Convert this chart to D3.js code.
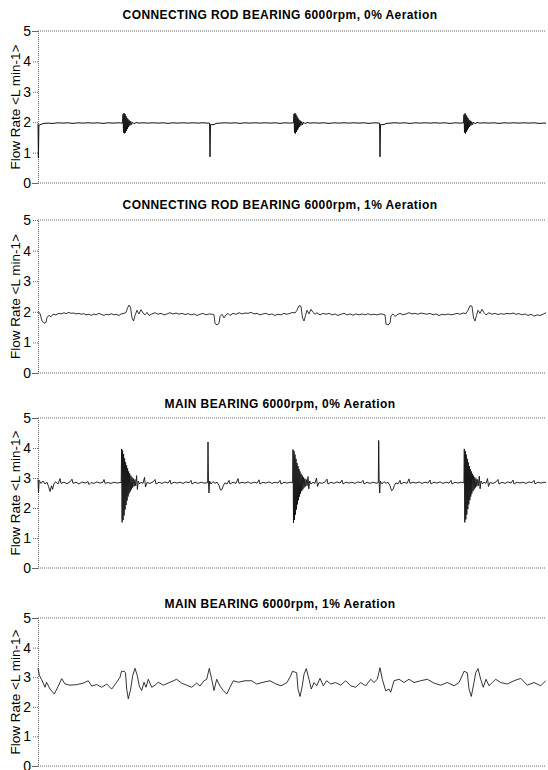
<!DOCTYPE html>
<html>
<head>
<meta charset="utf-8">
<script src="https://cdn.jsdelivr.net/npm/d3@7"></script>
<style>
  body { margin: 0; background: #fff; }
  svg { display: block; }
  .title { font-family: "Liberation Sans", Arial, sans-serif; font-weight: bold; font-size: 12px; letter-spacing: 0.4px; fill: #000; }
  .ylabel { font-family: "Liberation Sans", Arial, sans-serif; font-size: 13.5px; fill: #000; }
  .yaxis text { font-family: "Liberation Sans", Arial, sans-serif; font-size: 14px; fill: #000; }
  .yaxis path, .yaxis line, .frame { stroke: #666; stroke-dasharray: 1,1; fill: none; }
</style>
</head>
<body>
<div id="chart"></div>
<script>
// chart texts
var titles = [
    "CONNECTING ROD BEARING 6000rpm, 0% Aeration",
    "CONNECTING ROD BEARING 6000rpm, 1% Aeration",
    "MAIN BEARING 6000rpm, 0% Aeration",
    "MAIN BEARING 6000rpm, 1% Aeration"
];
var yLabel = "Flow Rate <L min-1>";
var yTicks = [0, 1, 2, 3, 4, 5];
var xDomain = [0, 508]; // sample index

// flow rate traces, [sample, L/min]
var conrod0 = [
[0,1.95],[0.4,0.82],[0.9,1.9],[3,1.93],[6,1.96],[10,1.97],[15,1.96],[20,1.98],[25,1.97],[30,1.98],[35,1.96],[40,1.98],[45,1.97],[50,1.98],[55,1.97],[60,1.98],[65,1.96],[70,1.98],[75,1.97],[80,1.98],[84.5,1.97],
[85,2.26],[85.5,1.66],[86,2.3],[86.5,1.63],[87,2.27],[87.5,1.66],[88,2.2],[88.5,1.72],[89,2.14],[89.5,1.78],[90,2.1],[90.6,1.84],[91.2,2.06],[91.9,1.89],[92.7,2.03],[93.6,1.92],[94.6,2.0],[96,1.95],[98,1.99],[101,1.97],[105,1.98],[110,1.97],[115,1.98],[120,1.97],[125,1.98],[130,1.96],[135,1.98],[140,1.97],[145,1.98],[150,1.97],[155,1.98],[160,1.97],[165,1.98],[170,1.97],[171.6,1.97],
[172,0.86],[172.5,1.92],[176,1.92],[178,1.96],[182,1.97],[187,1.98],[192,1.97],[197,1.98],[202,1.96],[207,1.98],[212,1.97],[217,1.98],[222,1.97],[227,1.98],[232,1.97],[237,1.98],[242,1.96],[247,1.98],[252,1.97],[255.5,1.98],
[256,2.27],[256.5,1.65],[257,2.3],[257.5,1.63],[258,2.25],[258.5,1.68],[259,2.19],[259.5,1.74],[260,2.13],[260.5,1.8],[261,2.08],[261.6,1.85],[262.2,2.05],[262.9,1.89],[263.7,2.02],[264.6,1.92],[265.6,2.0],[267,1.95],[269,1.99],[272,1.97],[276,1.98],[281,1.97],[286,1.98],[291,1.96],[296,1.98],[301,1.97],[306,1.98],[311,1.97],[316,1.98],[321,1.97],[326,1.98],[331,1.96],[336,1.98],[341.6,1.97],
[342,0.86],[342.5,1.92],[346,1.92],[348,1.96],[352,1.97],[357,1.98],[362,1.97],[367,1.98],[372,1.96],[377,1.98],[382,1.97],[387,1.98],[392,1.97],[397,1.98],[402,1.97],[407,1.98],[412,1.96],[417,1.98],[422,1.97],[425.5,1.98],
[426,2.25],[426.5,1.66],[427,2.29],[427.5,1.63],[428,2.24],[428.5,1.68],[429,2.18],[429.5,1.74],[430,2.13],[430.5,1.8],[431,2.08],[431.6,1.85],[432.2,2.05],[432.9,1.89],[433.7,2.02],[434.6,1.92],[435.6,2.0],[437,1.95],[439,1.99],[442,1.97],[446,1.98],[451,1.97],[456,1.98],[461,1.96],[466,1.98],[471,1.97],[476,1.98],[481,1.97],[486,1.98],[491,1.97],[496,1.98],[501,1.96],[505,1.97],[508,1.97]
];

var conrod1 = [
[0,2.0],[2,1.95],[4,1.7],[6,1.63],[8,1.65],[9,1.82],[11,1.88],[13,1.84],[15,1.92],[18,1.9],[21,1.95],[23,1.93],[26,1.97],[28,1.94],[31,1.98],[33,1.95],[36,1.96],[38,1.93],[41,1.95],[43,1.92],[46,1.94],[48,1.9],[51,1.92],[53,1.88],[56,1.93],[58,1.9],[61,1.95],[63,1.92],[66,1.88],[68,1.92],[71,1.9],[73,1.94],[76,1.9],[78,1.92],[81,1.88],[83,1.93],[86,1.95],[88,1.98],[89.5,2.12],[91,2.22],[92.5,2.15],[94,1.8],[95.5,1.7],[97,1.88],[99,2.05],[101,1.93],[103,2.07],[105,1.96],[107,1.9],[109,1.98],[111,1.88],[114,1.93],[117,1.97],[120,1.92],[123,1.95],[126,1.9],[129,1.93],[132,1.97],[135,1.93],[138,1.96],[141,1.92],[144,1.95],[147,1.91],[150,1.94],[153,1.9],[156,1.93],[159,1.88],[162,1.92],[165,1.95],[168,1.9],[171,1.93],[174,1.92],[176,1.9],[177,1.62],[179,1.57],[181,1.62],[182,1.85],[184,1.92],[186,1.8],[188,1.9],[190,1.95],[192,1.88],[195,1.95],[198,1.92],[201,1.97],[204,1.93],[207,1.96],[210,1.95],[213,1.98],[216,1.93],[219,1.95],[222,1.9],[225,1.93],[228,1.95],[231,1.9],[234,1.93],[237,1.88],[240,1.92],[243,1.9],[246,1.95],[249,1.92],[252,1.95],[255,1.98],[257,1.96],[259,2.05],[261,2.2],[263,2.18],[264.5,1.8],[266,1.7],[267.5,1.88],[269,2.05],[271,1.93],[273,2.08],[275,1.98],[277,1.92],[279,1.97],[282,1.9],[285,1.95],[288,1.92],[291,1.95],[294,1.9],[297,1.93],[300,1.88],[303,1.92],[306,1.95],[309,1.9],[312,1.93],[315,1.89],[318,1.93],[321,1.9],[324,1.93],[327,1.9],[330,1.94],[333,1.9],[336,1.92],[339,1.9],[342,1.93],[345,1.92],[347,1.9],[348,1.6],[350,1.57],[352,1.63],[353,1.87],[355,1.93],[357,1.85],[359,1.9],[362,1.95],[365,1.9],[368,1.93],[371,1.97],[374,1.93],[377,1.95],[380,1.92],[383,1.96],[386,1.94],[389,1.92],[392,1.95],[395,1.9],[398,1.93],[401,1.88],[404,1.92],[407,1.9],[410,1.93],[413,1.9],[416,1.92],[419,1.95],[422,1.92],[425,1.96],[428,1.94],[430,2.05],[432,2.2],[434,2.18],[435.5,1.8],[437,1.7],[438.5,1.88],[440,2.05],[442,1.95],[444,2.08],[446,1.97],[448,1.9],[451,1.97],[454,1.92],[457,1.95],[460,1.91],[463,1.94],[466,1.92],[469,1.95],[472,1.93],[475,1.96],[478,1.92],[481,1.94],[484,1.9],[487,1.93],[490,1.88],[493,1.92],[496,1.86],[499,1.9],[502,1.88],[505,1.92],[508,1.97]
];

var main0 = [
[0,2.95],[0.5,2.5],[1.2,2.92],[3,2.82],[5,2.9],[7,2.8],[9,2.86],[10.5,2.72],[12,2.55],[13.5,2.74],[14.5,2.62],[16,2.82],[18,2.87],[20,2.8],[22,2.98],[23,2.82],[26,2.86],[29,2.81],[32,2.87],[34,2.96],[35,2.82],[38,2.86],[41,2.8],[44,2.87],[47,2.83],[50,2.88],[51,2.78],[53,2.85],[56,2.82],[59,2.87],[62,2.83],[65,2.86],[66,2.95],[67,2.82],[70,2.85],[73,2.82],[76,2.86],[79,2.83],[82,2.85],[83.2,2.84],
[83.6,3.97],[84.1,1.52],[84.6,3.92],[85.1,1.6],[85.6,3.8],[86.1,1.75],[86.6,3.65],[87.1,1.95],[87.6,3.52],[88.1,2.1],[88.6,3.42],[89.1,2.25],[89.6,3.32],[90.1,2.38],[90.6,3.22],[91.1,2.48],[91.7,3.15],[92.3,2.55],[92.9,3.08],[93.5,2.62],[94.1,3.02],[94.7,2.68],[95.4,2.98],[96.1,2.72],[96.9,2.95],[97.7,2.74],[98.6,3.08],[99.4,2.62],[100.3,2.9],[101.5,2.8],[103,2.86],[105,2.82],[106.5,3.02],[107.5,2.7],[109,2.85],[112,2.82],[115,2.87],[117,2.95],[118,2.8],[121,2.86],[124,2.82],[127,2.87],[130,2.83],[132,2.93],[133,2.8],[136,2.86],[139,2.83],[142,2.86],[145,2.82],[148,2.87],[151,2.84],[153,2.92],[154,2.8],[157,2.86],[160,2.82],[163,2.86],[166,2.83],[169.6,2.84],
[170,4.2],[170.5,2.84],[171,2.5],[171.6,2.9],[173,2.8],[175,2.88],[177,2.82],[179,2.86],[181,2.75],[182.5,2.6],[184,2.62],[185.5,2.76],[187,2.84],[189,2.8],[191,2.92],[192,2.8],[195,2.86],[198,2.82],[200,2.98],[201,2.82],[204,2.86],[207,2.83],[210,2.87],[213,2.82],[216,2.86],[219,2.83],[221,2.94],[222,2.8],[225,2.86],[228,2.83],[231,2.87],[234,2.82],[237,2.86],[240,2.83],[242,2.92],[243,2.8],[246,2.86],[249,2.83],[252,2.86],[254.6,2.84],
[255,3.95],[255.5,1.5],[256,3.9],[256.5,1.6],[257,3.78],[257.5,1.78],[258,3.64],[258.5,1.95],[259,3.5],[259.5,2.12],[260,3.4],[260.5,2.26],[261,3.3],[261.5,2.38],[262,3.22],[262.5,2.48],[263.1,3.14],[263.7,2.56],[264.3,3.08],[264.9,2.62],[265.5,3.02],[266.1,2.68],[266.8,2.98],[267.5,2.72],[268.3,2.95],[269.1,2.74],[270,3.05],[270.8,2.64],[271.7,2.9],[273,2.8],[275,2.86],[277,2.82],[278.5,3.0],[279.5,2.72],[281,2.85],[284,2.82],[287,2.87],[289,2.96],[290,2.8],[293,2.86],[296,2.82],[299,2.87],[302,2.83],[304,2.93],[305,2.8],[308,2.86],[311,2.83],[314,2.86],[317,2.82],[320,2.87],[323,2.84],[325,2.92],[326,2.8],[329,2.86],[332,2.82],[335,2.86],[338,2.83],[340.3,2.84],
[340.7,4.25],[341.2,2.84],[341.7,2.5],[342.3,2.9],[344,2.8],[346,2.88],[348,2.82],[350,2.86],[352,2.74],[353.5,2.58],[355,2.62],[356.5,2.76],[358,2.84],[360,2.8],[362,2.92],[363,2.8],[366,2.86],[369,2.82],[371,2.97],[372,2.82],[375,2.86],[378,2.83],[381,2.87],[384,2.82],[387,2.86],[390,2.83],[392,2.93],[393,2.8],[396,2.86],[399,2.83],[402,2.87],[405,2.82],[408,2.86],[411,2.83],[413,2.92],[414,2.8],[417,2.86],[420,2.83],[423,2.86],[425.9,2.84],
[426.3,3.97],[426.8,1.52],[427.3,3.9],[427.8,1.62],[428.3,3.78],[428.8,1.78],[429.3,3.64],[429.8,1.96],[430.3,3.52],[430.8,2.12],[431.3,3.4],[431.8,2.26],[432.3,3.3],[432.8,2.38],[433.3,3.22],[433.8,2.48],[434.4,3.14],[435,2.56],[435.6,3.08],[436.2,2.62],[436.8,3.02],[437.4,2.68],[438.1,2.98],[438.8,2.72],[439.6,2.95],[440.4,2.74],[441.3,3.06],[442.1,2.64],[443,2.9],[444.5,2.8],[446,2.86],[448,2.82],[449.5,2.98],[450.5,2.72],[452,2.85],[455,2.82],[458,2.87],[460,2.95],[461,2.8],[464,2.86],[467,2.82],[470,2.87],[473,2.83],[475,2.93],[476,2.8],[479,2.86],[482,2.83],[485,2.86],[488,2.82],[491,2.87],[494,2.84],[496,2.92],[497,2.8],[500,2.86],[503,2.83],[506,2.86],[508,2.85]
];

var main1 = [
[0,3.3],[1.5,3.05],[3.5,2.93],[7,2.66],[8.5,2.83],[12,2.6],[16.3,2.43],[20.3,2.7],[23.7,2.95],[27,2.77],[32,2.73],[38.7,2.75],[45.3,2.8],[50.3,2.88],[53.7,2.7],[58.7,2.75],[63.7,2.66],[68.7,2.77],[73.7,2.6],[78.7,2.83],[82,3.0],[83.5,3.2],[86.3,3.2],[87.5,3.15],[88.7,2.6],[90.3,2.27],[92.7,2.6],[94.7,3.05],[97,3.3],[99.3,3.05],[101.3,2.7],[103.7,2.55],[106,2.83],[108,2.66],[110.3,2.93],[113.7,2.66],[117,2.73],[120.3,2.83],[125.3,2.73],[132,2.83],[138.7,2.93],[143.7,2.8],[148.7,2.73],[153.7,2.66],[158.7,2.8],[162,2.7],[166,2.88],[168.7,2.93],[171.3,3.3],[173.7,2.93],[176,2.55],[178.7,2.93],[182,2.7],[185.3,2.55],[188.7,2.43],[192,2.66],[195.3,2.88],[200.3,2.83],[207,2.88],[213.7,2.88],[218.7,2.77],[225.3,2.83],[232,2.88],[238,2.77],[243,2.71],[249,2.82],[252.5,3.04],[254.5,3.2],[258.7,3.15],[260,2.6],[262,2.35],[264.3,2.71],[266,3.1],[268.3,3.29],[271,2.93],[273.3,2.6],[276,2.82],[278.7,2.71],[282,2.96],[285.3,2.71],[288.7,2.88],[292.7,2.77],[297.7,2.82],[302.7,2.73],[307.7,2.88],[312.7,2.71],[317.7,2.66],[322.7,2.82],[327.7,2.71],[332.7,2.93],[336,2.82],[339.3,2.93],[342,3.32],[344.3,2.93],[347.7,2.54],[351,2.6],[352.7,2.49],[356,2.88],[361,2.93],[366,2.82],[371,2.93],[376,2.82],[382.7,2.88],[389.3,2.93],[396,2.8],[402.7,2.73],[409.3,2.82],[416,2.71],[421,2.82],[424,3.04],[426,3.2],[429.3,3.15],[431,2.6],[433.3,2.35],[436,2.82],[437.7,3.15],[440,3.29],[442.7,2.93],[445.3,2.66],[448,2.93],[451,2.71],[454.3,2.82],[457.7,2.93],[462.7,2.82],[469.3,2.77],[476,2.88],[482.7,2.96],[489.3,2.73],[496,2.82],[502.7,2.71],[507.7,2.88]
];

var series = [conrod0, conrod1, main0, main1];

// panel layout (pixels)
var width = 548, height = 770;
var left = 38, right = 546, titleX = 280;
var panelTop = [31, 220, 418, 618];
var panelBottom = [183, 373, 568, 766];
var titleY = [19, 209, 408, 608];
var lineWidth = [1, 0.85, 0.9, 0.85];

var svg = d3.select("#chart")
    .append("svg")
    .attr("width", width)
    .attr("height", height);

var x = d3.scaleLinear().domain(xDomain).range([left, right]);

series.forEach(function (data, i) {
    var y = d3.scaleLinear().domain([0, 5]).range([panelBottom[i], panelTop[i]]);
    var g = svg.append("g");

    // title
    g.append("text")
        .attr("class", "title")
        .attr("x", titleX)
        .attr("y", titleY[i])
        .attr("text-anchor", "middle")
        .text(titles[i]);

    // top and bottom frame lines
    g.append("line").attr("class", "frame")
        .attr("x1", left).attr("x2", right)
        .attr("y1", y(5)).attr("y2", y(5));
    g.append("line").attr("class", "frame")
        .attr("x1", left).attr("x2", right)
        .attr("y1", y(0)).attr("y2", y(0));

    // Y axis
    g.append("g")
        .attr("class", "yaxis")
        .attr("transform", "translate(" + left + ",0)")
        .call(d3.axisLeft(y).tickValues(yTicks).tickFormat(d3.format("d"))
            .tickSizeOuter(0).tickSize(6).tickPadding(1));

    // y-label
    g.append("text")
        .attr("class", "ylabel")
        .attr("text-anchor", "middle")
        .attr("transform", "translate(20," + (panelTop[i] + panelBottom[i]) / 2 + ") rotate(-90)")
        .text(yLabel);

    // trace
    g.append("path")
        .datum(data)
        .attr("fill", "none")
        .attr("stroke", "#111")
        .attr("stroke-width", lineWidth[i])
        .attr("stroke-linejoin", "round")
        .attr("d", d3.line()
            .x(function (d) { return x(d[0]); })
            .y(function (d) { return y(d[1]); }));
});
</script>
</body>
</html>
